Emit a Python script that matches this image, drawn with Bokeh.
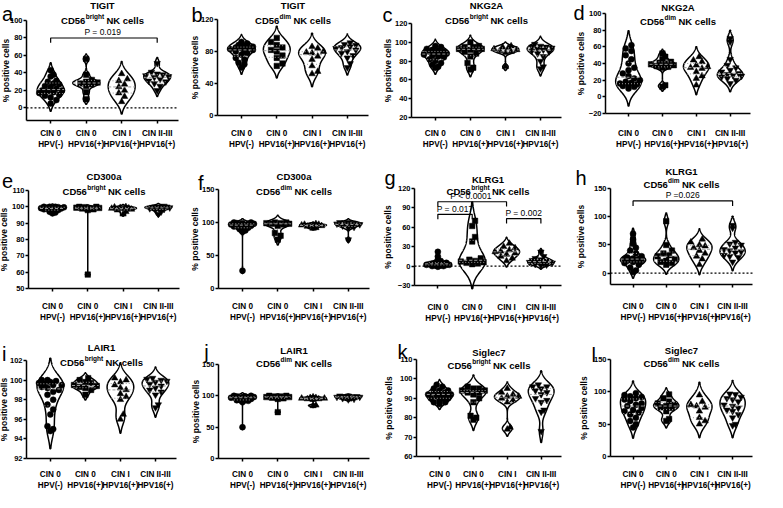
import numpy as np
from bokeh.plotting import figure
from bokeh.layouts import column, row
from bokeh.models import Label, FixedTicker, Range1d, LinearAxis
from bokeh.embed import file_html
from bokeh.resources import INLINE

# ---------------- data ----------------
GROUP_LINE1 = ["CIN 0", "CIN 0", "CIN I", "CIN II-III"]
GROUP_LINE2 = ["HPV(-)", "HPV16(+)", "HPV16(+)", "HPV16(+)"]
MARKERS = ["circle", "square", "triangle", "inverted_triangle"]

tigit_bright = [
    [43, 38, 36, 31, 30, 28, 27, 25, 24, 22, 20, 20, 19, 18, 17, 15, 14, 12, 9, 5],
    [56, 38, 32, 30, 29, 28, 27, 25, 18, 10],
    [39, 33, 31, 27, 24, 20, 17, 13, 7],
    [51, 41, 39, 38, 37, 36, 35, 33, 31, 30, 28, 25, 20],
]
tigit_dim = [
    [92, 90, 88, 87, 86, 85, 85, 84, 83, 82, 80, 80, 78, 76, 72, 70, 66, 64, 60],
    [97, 92, 88, 85, 82, 80, 75, 72, 65, 62],
    [86, 84, 80, 79, 78, 74, 70, 62, 55, 52],
    [91, 89, 88, 86, 85, 84, 82, 80, 78, 75, 72, 65, 60],
]
nkg2a_bright = [
    [96, 95, 93, 92, 91, 90, 90, 89, 88, 88, 87, 86, 85, 84, 82, 80, 78, 76, 74, 73],
    [100, 96, 95, 95, 94, 93, 93, 92, 90, 88, 85, 78, 73, 71],
    [96, 95, 94, 93, 92, 91, 90, 89, 74],
    [98, 96, 95, 95, 94, 93, 92, 91, 90, 88, 85, 80, 74, 72],
]
nkg2a_dim = [
    [62, 58, 55, 50, 45, 40, 35, 32, 28, 25, 22, 20, 18, 17, 16, 15, 14, 13, 12, 10],
    [52, 48, 45, 42, 41, 40, 39, 38, 37, 36, 35, 14, 12],
    [48, 44, 42, 38, 36, 35, 34, 30, 25, 22, 14],
    [70, 66, 45, 38, 35, 32, 30, 28, 27, 26, 25, 24, 22, 20, 16],
]
cd300a_bright = [
    [100, 100, 100, 99.8, 99.7, 99.5, 99.5, 99.2, 99, 99, 98.8, 98.5, 98, 97.5, 97, 96.5, 96],
    [100, 100, 99.8, 99.5, 99.3, 99, 99, 98.5, 98, 58.5],
    [100, 99.8, 99.5, 99.2, 99, 98.8, 98.5, 98, 97, 95.5],
    [100.5, 100, 100, 100, 99.8, 99.5, 99.2, 99, 98.5, 98, 97, 95.5],
]
cd300a_dim = [
    [100, 100, 99, 99, 98, 98, 97, 97, 96, 95, 94, 93, 92, 90, 88, 86, 27],
    [100, 100, 99, 99, 98, 98, 97, 95, 84, 80, 74],
    [98, 97, 97, 96, 96, 95, 95, 94, 92, 91],
    [100, 100, 99, 99, 98, 97, 96, 95, 93, 92, 74],
]
klrg1_bright = [
    [22, 15, 10, 8, 6, 5, 5, 4, 4, 4, 3, 3, 2, 2, 2, 1, 1, 0, 0, -1],
    [70, 62, 45, 38, 12, 10, 8, 7, 6, 5, 4, 3],
    [35, 30, 28, 25, 23, 22, 20, 18, 15, 12, 8],
    [22, 15, 12, 10, 9, 8, 7, 6, 5, 4, 3, 2, 1],
]
klrg1_dim = [
    [70, 60, 52, 45, 40, 35, 30, 28, 26, 25, 25, 24, 23, 22, 21, 20, 18, 15, 10, 5, 2],
    [92, 50, 40, 35, 32, 30, 25, 22, 20, 18, 15],
    [60, 55, 50, 48, 45, 40, 35, 30, 25, 15],
    [85, 80, 55, 52, 50, 45, 42, 40, 38, 36, 32, 30, 28, 20],
]
lair1_bright = [
    [100, 100, 99.9, 99.8, 99.7, 99.6, 99.5, 99.5, 99.3, 99.2, 99, 98.8, 98.5, 98, 97.5, 97, 96.5, 95.3, 95, 94.8],
    [100.2, 100, 99.8, 99.7, 99.5, 99.4, 99.3, 99.2, 99, 98.5],
    [100.2, 100, 99.8, 99.5, 99.2, 99, 98.6, 98.3, 98, 96.5, 96],
    [100.2, 100.1, 100, 99.9, 99.8, 99.6, 99.4, 99.2, 99, 98.8, 98.5, 97.5, 97.2],
]
lair1_dim = [
    [100, 100, 99, 99, 98, 98, 97, 97, 96, 95, 94, 93, 92, 90, 50],
    [100, 100, 99, 99, 98, 98, 97, 96, 95, 74],
    [98, 97, 97, 96, 96, 95, 95, 94, 85, 84],
    [100, 100, 99, 99, 98, 98, 97, 96, 95, 94],
]
siglec7_bright = [
    [97, 96, 95, 94, 94, 93, 93, 92, 92, 92, 91, 91, 90, 90, 90, 89, 88, 88, 87],
    [96, 95, 95, 94, 94, 93, 93, 92, 90, 88, 81, 80, 79],
    [95, 93, 92, 91, 91, 90, 89, 88, 75, 74],
    [97, 96, 96, 95, 94, 93, 92, 90, 89, 88, 84, 83, 73],
]
siglec7_dim = [
    [98, 95, 93, 92, 90, 88, 86, 82, 80, 78, 75, 72, 70, 68, 65, 60, 55, 50, 45],
    [96, 90, 85, 82, 80, 78, 76, 75, 70, 58, 55],
    [95, 85, 80, 78, 76, 70, 60, 55, 50],
    [97, 96, 92, 90, 88, 85, 80, 78, 75, 72, 70, 65, 60, 50, 48],
]

# y ranges and ticks
yr_a, yt_a = (-14.4, 100), [0, 20, 40, 60, 80, 100]
yr_b, yt_b = (0, 120), [0, 40, 80, 120]
yr_c, yt_c = (20, 120), [20, 40, 60, 80, 100, 120]
yr_d, yt_d = (-20, 100), [-20, 0, 20, 40, 60, 80, 100]
yr_e, yt_e = (50, 110), [50, 60, 70, 80, 90, 100, 110]
yr_f, yt_f = (0, 150), [0, 50, 100, 150]
yr_g, yt_g = (-30, 120), [-30, 0, 30, 60, 90, 120]
yr_h, yt_h = (-20, 150), [0, 50, 100, 150]
yr_i, yt_i = (92, 102), [92, 94, 96, 98, 100, 102]
yr_j, yt_j = (0, 150), [0, 50, 100, 150]
yr_k, yt_k = (60, 110), [60, 70, 80, 90, 100, 110]
yr_l, yt_l = (0, 150), [0, 50, 100, 150]

# significance brackets: (group1, group2, y, drop, text)
br_a = [(0, 3, 80, 5.5, "P  = 0.019")]
br_g = [(0, 2, 99.5, 7.5, "P  < 0.0001"), (0, 1, 80, 7.5, "P = 0.017"), (2, 3, 73.5, 7.5, "P = 0.002")]
br_h = [(0, 3, 128, 9, "P =0.026")]

# ---------------- styling / layout ----------------
FONT = "Liberation Sans"
FIG_W, FIG_H = 191, 164
XR = (-0.68, 3.6)
HALF_MAX = 0.38

AW = {"C": 722, "D": 722, "5": 556, "6": 556, "b": 611, "r": 389, "i": 278, "g": 611,
      "h": 611, "t": 333, "d": 611, "m": 889, " ": 278, "N": 722, "K": 722, "c": 556,
      "e": 556, "l": 278, "s": 556}


def text_w(s, size):
    return sum(AW.get(ch, 556) for ch in s) / 1000.0 * size


def violin_shape(vals):
    v = np.asarray(vals, float)
    n = len(v)
    sd = v.std(ddof=1)
    q1, q3 = np.percentile(v, [25, 75])
    s = min(sd, (q3 - q1) / 1.34) if q3 > q1 else sd
    bw = 1.06 * s * n ** -0.2
    ys = np.linspace(v.min() - 3 * bw, v.max() + 3 * bw, 400)
    dens = np.exp(-0.5 * ((ys[:, None] - v[None, :]) / bw) ** 2).sum(1)
    dens /= dens.max()
    keep = (dens > 0.03) | ((ys >= v.min()) & (ys <= v.max()))
    idx = np.where(keep)[0]
    ys = ys[idx[0]:idx[-1] + 1]
    dens = dens[idx[0]:idx[-1] + 1]
    return ys, dens * HALF_MAX


def swarm(vals, ys_v, half_v, ppy, ppx, size):
    v = np.asarray(vals, float)
    order = np.argsort(v)
    placed = []
    xs = np.zeros(len(v))
    d = size * 0.95
    step = d * 0.5
    for i in order:
        py = v[i] * ppy
        cap = max(float(np.interp(v[i], ys_v, half_v)) * ppx * 0.9, 2.0)
        cands = [0.0]
        k = 1
        while k * step <= cap:
            cands += [k * step, -k * step]
            k += 1
        best, best_d = 0.0, -1.0
        for c in cands:
            md = min([np.hypot(c - qx, py - qy) for qx, qy in placed] or [1e9])
            if md >= d:
                best = c
                break
            if md > best_d:
                best_d, best = md, c
        placed.append((best, py))
        xs[i] = best / ppx
    return xs


def style_axis(ax):
    ax.axis_line_width = 1.5
    ax.axis_line_color = "black"
    ax.major_tick_line_width = 1.5
    ax.major_tick_line_color = "black"
    ax.minor_tick_line_color = None
    ax.major_tick_in = 0
    ax.major_tick_out = 3
    ax.major_label_text_font = FONT
    ax.major_label_text_font_style = "bold"
    ax.major_label_text_color = "black"


def make_panel(letter, name, sub, groups, yr, yt, zero, brackets, lay):
    L, Wf, T, H, gap, t1, t2, lx, ly, ylab_x = lay
    ppx = Wf / (XR[1] - XR[0])
    ppy = H / (yr[1] - yr[0])
    x_full = (XR[0] - L / ppx, XR[1] + (FIG_W - L - Wf) / ppx)
    y_full = (yr[0] - (FIG_H - T - H) / ppy, yr[1] + T / ppy)
    p = figure(width=FIG_W, height=FIG_H, x_range=Range1d(*x_full), y_range=Range1d(*y_full),
               title=None, output_backend="svg", toolbar_location=None, min_border=0,
               min_border_left=0, min_border_right=0, min_border_top=0, min_border_bottom=0)
    p.xgrid.visible = False
    p.ygrid.visible = False
    p.outline_line_color = None
    p.background_fill_color = "white"
    p.border_fill_color = "white"

    ya = p.yaxis[0]
    style_axis(ya)
    ya.fixed_location = XR[0]
    ya.bounds = yr
    ya.ticker = FixedTicker(ticks=yt)
    ya.major_label_text_font_size = "7.5px"
    ya.major_label_standoff = 1
    ya.axis_label = "% positive cells"
    ya.axis_label_text_font = FONT
    ya.axis_label_text_font_size = "8.5px"
    ya.axis_label_text_font_style = "bold"
    ya.axis_label_text_color = "black"
    ya.axis_label_standoff = int(round(L - 21.5 - ylab_x))

    s1 = max(0, int(round(gap - 3 - 4.5)))
    xa = p.xaxis[0]
    style_axis(xa)
    xa.fixed_location = yr[0]
    xa.bounds = XR
    xa.ticker = FixedTicker(ticks=[0, 1, 2, 3])
    xa.major_label_overrides = {i: t for i, t in enumerate(GROUP_LINE1)}
    xa.major_label_text_font_size = "8.2px"
    xa.major_label_standoff = s1

    xb = LinearAxis(fixed_location=yr[0], bounds=XR, ticker=FixedTicker(ticks=[0, 1, 2, 3]))
    style_axis(xb)
    xb.axis_line_color = None
    xb.major_tick_line_color = None
    xb.major_label_overrides = {i: t for i, t in enumerate(GROUP_LINE2)}
    xb.major_label_text_font_size = "8.2px"
    xb.major_label_standoff = s1 + 11
    p.add_layout(xb, "below")

    if zero:
        p.line([XR[0], XR[1]], [0, 0], line_color="black", line_dash="2 2", line_width=1.2)

    for gi, vals in enumerate(groups):
        ys, half = violin_shape(vals)
        xs = np.concatenate([gi - half, (gi + half)[::-1]])
        yy = np.concatenate([ys, ys[::-1]])
        p.patch(xs, yy, fill_color="white", line_color="black", line_width=1.5)
        offs = swarm(vals, ys, half, ppy, ppx, 6)
        msize = 6.5 if "triangle" in MARKERS[gi] else (5.5 if MARKERS[gi] == "square" else 6)
        p.scatter(gi + offs, vals, marker=MARKERS[gi], size=msize,
                  fill_color="black", line_color="black", line_width=0.5)
        q1, med, q3 = np.percentile(vals, [25, 50, 75])
        for q, dash in ((q1, "1 2"), (med, "3 2"), (q3, "1 2")):
            w = float(np.interp(q, ys, half))
            p.line([gi - w, gi + w], [q, q], line_color="#9a9a9a", line_dash=dash, line_width=1)

    for g1, g2, by, drop, txt in brackets:
        p.line([g1, g1, g2, g2], [by - drop, by, by, by - drop], line_color="black", line_width=1.2)
        p.add_layout(Label(x=(g1 + g2) / 2, y=by + 0.8 / ppy, text=txt, text_font=FONT,
                           text_font_size="8.5px", text_align="center", text_baseline="bottom",
                           text_color="black"))

    def lab(fx, fy, txt, size, style="bold", align="left", baseline="alphabetic"):
        p.add_layout(Label(x=fx, y=FIG_H - fy, x_units="screen", y_units="screen",
                           text=txt, text_font=FONT, text_font_size=f"{size}px",
                           text_font_style=style, text_align=align, text_baseline=baseline,
                           text_color="black"))

    cx = L + Wf / 2
    lab(cx, t1, name, 9.5, align="center", baseline="middle")
    s_main, s_sup = 9.5, 6.5
    w_cd = text_w("CD56", s_main)
    w_sup = text_w(sub, s_sup)
    w_sp = text_w(" ", s_main)
    w_nk = text_w("NK cells", s_main)
    total = w_cd + w_sup + w_sp + w_nk
    x0 = cx - total / 2
    base = t2 + 3.4
    lab(x0, base, "CD56", s_main)
    lab(x0 + w_cd + 0.3, base - 4.0, sub, s_sup)
    lab(x0 + w_cd + w_sup + w_sp, base, "NK cells", s_main)
    lab(lx, ly, letter, 20, style="normal")
    return p


# layout per panel:
# (left, frame_w, top, frame_h, label_gap, title1_y, title2_y, letter_x, letter_y, ylabel_x)
lay_a = (26, 152, 20, 100, 12.7, 4.8, 16.5, 1.6, 13.5, 8.2)
lay_b = (26, 151, 19, 96, 17.7, 4.8, 16.5, 0.0, 14.5, 6.6)
lay_c = (29, 150, 23, 94, 15.7, 4.8, 16.5, 0.0, 14.5, 8.4)
lay_d = (32, 145, 13, 100, 19.7, 6.8, 17.4, 0.0, 12.0, 10.1)
lay_e = (28, 151, 26, 98, 18.0, 12.3, 23.9, 1.6, 16.8, 6.5)
lay_f = (27, 151, 25, 99, 18.0, 12.3, 23.5, 6.6, 18.4, 6.6)
lay_g = (32, 147, 24, 97, 21.0, 14.8, 23.8, 1.9, 13.5, 8.4)
lay_h = (37, 142, 24, 96, 22.0, 7.1, 16.8, 1.9, 13.5, 10.8)
lay_i = (26, 150, 32, 98, 16.0, 19.4, 31.0, 1.6, 25.2, 6.5)
lay_j = (27, 151, 36, 94, 16.0, 21.9, 31.6, 12.8, 23.6, 7.3)
lay_k = (34, 145, 31, 97, 18.0, 23.6, 33.2, 14.9, 23.6, 9.3)
lay_l = (37, 142, 31, 97, 18.0, 21.9, 31.6, 17.9, 26.5, 13.3)

pa = make_panel("a", "TIGIT", "bright", tigit_bright, yr_a, yt_a, True, br_a, lay_a)
pb = make_panel("b", "TIGIT", "dim", tigit_dim, yr_b, yt_b, False, [], lay_b)
pc = make_panel("c", "NKG2A", "bright", nkg2a_bright, yr_c, yt_c, False, [], lay_c)
pd = make_panel("d", "NKG2A", "dim", nkg2a_dim, yr_d, yt_d, False, [], lay_d)
pe = make_panel("e", "CD300a", "bright", cd300a_bright, yr_e, yt_e, False, [], lay_e)
pf = make_panel("f", "CD300a", "dim", cd300a_dim, yr_f, yt_f, False, [], lay_f)
pg = make_panel("g", "KLRG1", "bright", klrg1_bright, yr_g, yt_g, True, br_g, lay_g)
ph = make_panel("h", "KLRG1", "dim", klrg1_dim, yr_h, yt_h, True, br_h, lay_h)
pi = make_panel("i", "LAIR1", "bright", lair1_bright, yr_i, yt_i, False, [], lay_i)
pj = make_panel("j", "LAIR1", "dim", lair1_dim, yr_j, yt_j, False, [], lay_j)
pk = make_panel("k", "Siglec7", "bright", siglec7_bright, yr_k, yt_k, False, [], lay_k)
pl = make_panel("l", "Siglec7", "dim", siglec7_dim, yr_l, yt_l, False, [], lay_l)

page = column(row(pa, pb, pc, pd, spacing=0), row(pe, pf, pg, ph, spacing=0),
              row(pi, pj, pk, pl, spacing=0), spacing=0)

open("out.html", "w").write(file_html(page, INLINE))
